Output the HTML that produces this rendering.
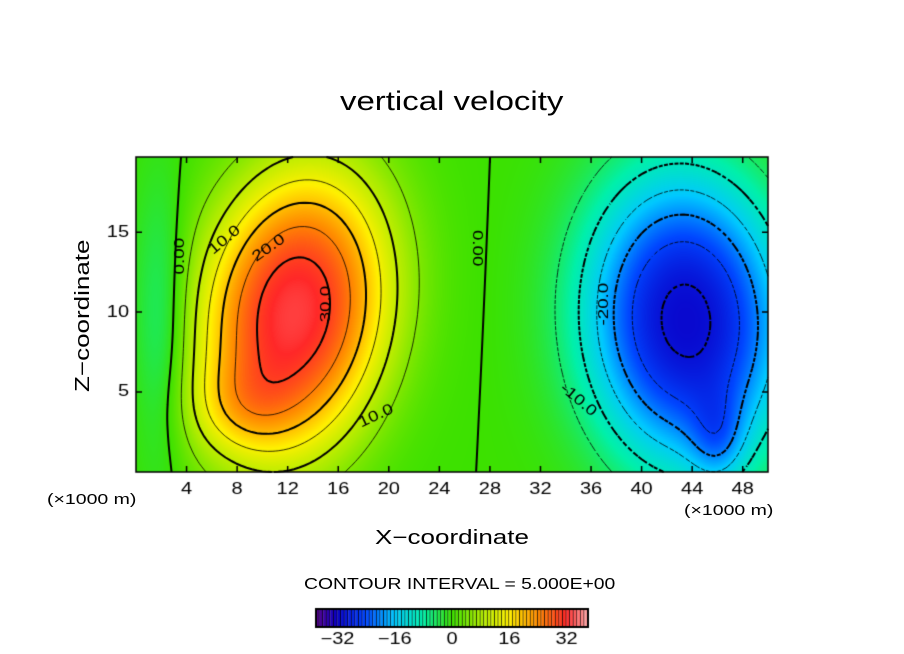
<!DOCTYPE html>
<html><head><meta charset="utf-8">
<style>
body{margin:0;background:#fff;width:904px;height:654px;overflow:hidden;position:relative;font-family:"Liberation Sans",sans-serif}
.t{position:absolute;color:#000;white-space:nowrap;transform-origin:0 0}
canvas{position:absolute;left:0;top:0}
</style></head><body>
<canvas id="c" width="904" height="654"></canvas>
<div class="t" style="left:340px;top:86px;font-size:27px;transform:scaleX(1.22)">vertical velocity</div>
<div class="t" style="left:72px;top:392px;font-size:20px;transform:rotate(-90deg) scaleX(1.3)">Z−coordinate</div>
<div class="t" style="left:375px;top:527px;font-size:20px;transform:scaleX(1.3)">X−coordinate</div>
<div class="t" style="left:47px;top:491px;font-size:15px;transform:scaleX(1.3)">(×1000 m)</div>
<div class="t" style="left:684px;top:502px;font-size:15px;transform:scaleX(1.3)">(×1000 m)</div>
<div class="t" style="left:304px;top:576px;font-size:16px;transform:scaleX(1.21)">CONTOUR INTERVAL = 5.000E+00</div>
<script>
const xTicks=[4,8,12,16,20,24,28,32,36,40,44,48];
const yTicks=[5,10,15];
const cbTicks=[-32,-16,0,16,32];
const levels=[-30,-25,-20,-15,-10,-5,0,5,10,15,20,25,30];
const blobX=[12.5,8,43.5,46,2];
const blobY=[10,4,9.5,2,9];
const blobAmp=[33,6,-31,-8,-7];
const blobSx=[5.5,3,6,1.5,1.5];
const blobSy=[7,2,7,2,6];
const blobRot=[20,0,-10,0,0];
const blobP=[1.2,1,1.2,1,1];
const X0=136,X1=768,Y0=472,Y1=157,XMAX=50,YMAX=19.7;
const sx=v=>X0+(v/XMAX)*(X1-X0), sy=v=>Y0-(v/YMAX)*(Y0-Y1);
function field(x,y){let s=0;for(let i=0;i<blobX.length;i++){const a=blobRot[i]*Math.PI/180,ux=x-blobX[i],uy=y-blobY[i];
 const px=ux*Math.cos(a)-uy*Math.sin(a),py=ux*Math.sin(a)+uy*Math.cos(a);
 const dx=px/blobSx[i],dy=py/blobSy[i];s+=blobAmp[i]*Math.exp(-0.5*Math.pow(dx*dx+dy*dy,blobP[i]));}return s;}
const stops=[[-38,[90,0,140]],[-32,[10,0,200]],[-24,[0,70,255]],[-16,[0,200,255]],[-8,[0,240,170]],[0,[60,225,0]],[8,[170,235,0]],[16,[255,240,0]],[24,[255,140,0]],[32,[255,40,40]],[38,[255,170,170]]];
function col(v){v=Math.max(-38,Math.min(38,v));for(let i=0;i<stops.length-1;i++){const a=stops[i],b=stops[i+1];if(v<=b[0]){const t=(v-a[0])/(b[0]-a[0]);return a[1].map((c,k)=>Math.round(c+(b[1][k]-c)*t));}}return stops[stops.length-1][1];}
const ctx=document.getElementById('c').getContext('2d');
const W=X1-X0,H=Y0-Y1,img=ctx.createImageData(W,H);
for(let j=0;j<H;j++)for(let i=0;i<W;i++){const x=i/W*XMAX,y=(H-j)/H*YMAX;const c=col(field(x,y));const p=(j*W+i)*4;img.data[p]=c[0];img.data[p+1]=c[1];img.data[p+2]=c[2];img.data[p+3]=255;}
ctx.putImageData(img,X0,Y1);
const N=120,M=60,g=[];
for(let j=0;j<=M;j++){g[j]=[];for(let i=0;i<=N;i++)g[j][i]=field(i/N*XMAX,j/M*YMAX);}
levels.forEach(L=>{
 ctx.beginPath();ctx.strokeStyle='#000';ctx.lineWidth=(L%10===0)?2:0.8;ctx.setLineDash(L<0?[4,3]:[]);
 for(let j=0;j<M;j++)for(let i=0;i<N;i++){
  const c=[[i,j],[i+1,j],[i+1,j+1],[i,j+1]],pts=[];
  for(let k=0;k<4;k++){const a=c[k],b=c[(k+1)%4],va=g[a[1]][a[0]]-L,vb=g[b[1]][b[0]]-L;
   if((va<0)!==(vb<0)){const t=va/(va-vb);pts.push([(a[0]+(b[0]-a[0])*t)/N*XMAX,(a[1]+(b[1]-a[1])*t)/M*YMAX]);}}
  for(let k=0;k+1<pts.length;k+=2){ctx.moveTo(sx(pts[k][0]),sy(pts[k][1]));ctx.lineTo(sx(pts[k+1][0]),sy(pts[k+1][1]));}
 }
 ctx.stroke();
});
ctx.setLineDash([]);
const labText=['0.00','10.0','20.0','30.0','10.0','0.00','-20.0','-10.0'];
const labX=[3.5,7,10.5,15,19,27,37,35];
const labY=[13.5,14.5,14,10.5,3.5,14,10.5,4.5];
const labR=[-90,-40,-35,-90,-25,90,-90,40];
function lbl(t,x,y,r){ctx.save();ctx.translate(x,y);ctx.rotate(r*Math.PI/180);ctx.scale(1.25,1);ctx.fillText(t,0,0);ctx.restore();}
ctx.font='15px "Liberation Sans",sans-serif';ctx.textAlign='center';ctx.textBaseline='middle';ctx.fillStyle='#000';
labText.forEach((t,i)=>lbl(t,sx(labX[i]),sy(labY[i]),labR[i]));
ctx.strokeStyle='#000';ctx.lineWidth=1.5;ctx.strokeRect(X0,Y1,W,H);
ctx.font='16px "Liberation Sans",sans-serif';
xTicks.forEach(v=>{ctx.beginPath();ctx.moveTo(sx(v),Y0);ctx.lineTo(sx(v),Y0-6);ctx.moveTo(sx(v),Y1);ctx.lineTo(sx(v),Y1+6);ctx.stroke();ctx.textAlign='center';ctx.textBaseline='top';lbl(String(v),sx(v),Y0+10,0);});
yTicks.forEach(v=>{ctx.beginPath();ctx.moveTo(X0,sy(v));ctx.lineTo(X0+6,sy(v));ctx.moveTo(X1,sy(v));ctx.lineTo(X1-6,sy(v));ctx.stroke();ctx.textAlign='right';ctx.textBaseline='middle';lbl(String(v),X0-7,sy(v),0);});
const CB0=316,CB1=588,CBy=609,CBh=18,VMIN=-38,VMAX=38,cbx=v=>CB0+(v-VMIN)/(VMAX-VMIN)*(CB1-CB0);
for(let v=VMIN;v<VMAX;v+=1){const c=col(v+0.5);ctx.fillStyle=`rgb(${c})`;ctx.fillRect(cbx(v),CBy,cbx(v+1)-cbx(v),CBh);ctx.fillStyle='#000';ctx.fillRect(cbx(v+1)-0.8,CBy,0.8,CBh);}
ctx.lineWidth=2;ctx.strokeRect(CB0,CBy,CB1-CB0,CBh);
ctx.textAlign='center';ctx.textBaseline='top';ctx.fillStyle='#000';
cbTicks.forEach(v=>lbl(v<0?'−'+(-v):String(v),cbx(v),CBy+23,0));
</script>
</body></html>
